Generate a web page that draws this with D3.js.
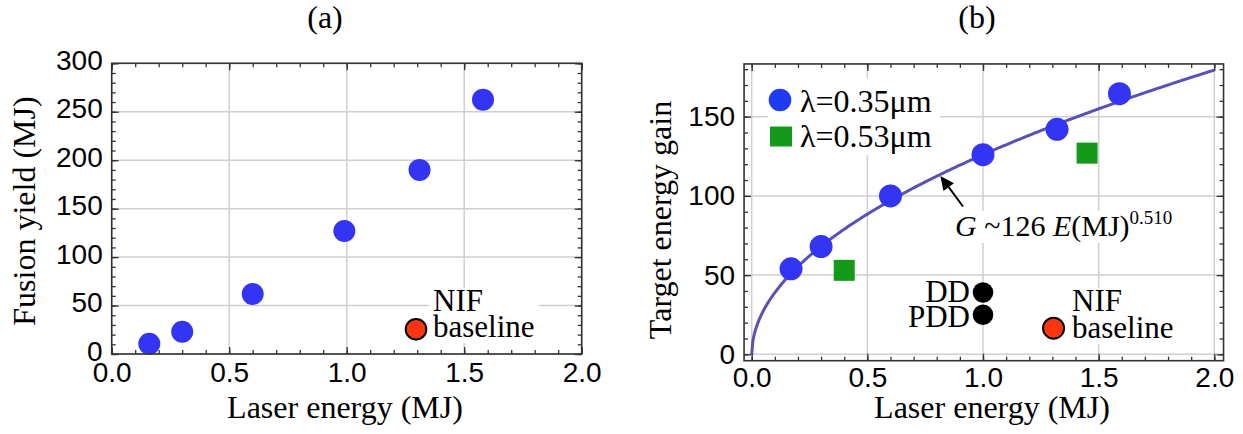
<!DOCTYPE html>
<html>
<head>
<meta charset="utf-8">
<script src="https://cdn.jsdelivr.net/npm/d3@7"></script>
<style>
  body { margin: 0; background: #fff; }
  svg { display: block; }
  .tick text { font-family: "Liberation Sans", Arial, sans-serif; font-size: 28px; fill: #000; }
  .serif { font-family: "Liberation Serif", "Times New Roman", serif; fill: #000; }
  .note { font-family: "Liberation Serif", "Times New Roman", serif; color: #000; white-space: nowrap; }
  .note div { display: inline-block; background: #fff; }
</style>
</head>
<body>
<svg></svg>
<script>
// ---- panel (a): fusion yield ----
const laserA = [0.16, 0.30, 0.60, 0.99, 1.31, 1.58];
const yieldA = [10.5, 23, 62, 127, 190, 262.5];
const nifLaserA = 1.295;
const nifYieldA = 25.5;

// ---- panel (b): target gain ----
const laserBlue = [0.17, 0.30, 0.60, 1.0, 1.32, 1.59];
const gainBlue = [54, 68, 100, 126, 142, 164.5];
const laserGreen = [0.40, 1.45];
const gainGreen = [53, 127];
const ddNames = ['DD', 'PDD'];
const ddLaser = [1.0, 1.0];
const ddGain = [39, 25];
const nifLaserB = 1.305;
const nifGainB = 16.5;
// fit G ~ 126 E^0.510
const fitCoef = 126;
const fitExp = 0.510;

// tick values
const xMajor = [0, 0.5, 1, 1.5, 2];
const xMinor = d3.range(0, 2.001, 0.1);
const yMajorA = [0, 50, 100, 150, 200, 250, 300];
const yMinorA = d3.range(0, 301, 10);
const yMajorB = [0, 50, 100, 150];
const yMinorB = d3.range(0, 181, 10);

const blue = '#3434f4';
const green = '#15991a';
const red = '#ff3512';
const curveColor = '#5a51b6';

const svg = d3.select('svg').attr('width', 1243).attr('height', 434);

// scales (pixel ranges measured from the frames)
const xA = d3.scaleLinear().domain([0, 2]).range([111.7, 581.7]);
const yA = d3.scaleLinear().domain([0, 300]).range([354, 63.3]);
const xB = d3.scaleLinear().domain([0, 2]).range([751.7, 1214.3]);
const yB = d3.scaleLinear().domain([0, 150]).range([354.3, 116.7]);

// draws grid, ticks and frame for a panel
function panel(x, y, xDom, yDom, yMajor, yMinor, opt) {
  const g = svg.append('g');
  const x0 = x(xDom[0]), x1 = x(xDom[1]);
  const y0 = y(yDom[0]), y1 = y(yDom[1]);

  const grid = g.append('g').attr('stroke', '#cfcfcf').attr('stroke-width', 1.5);
  grid.selectAll('.gx').data(xMajor).join('line')
    .attr('x1', d => x(d)).attr('x2', d => x(d)).attr('y1', y0).attr('y2', y1);
  grid.selectAll('.gy').data(yMajor).join('line')
    .attr('y1', d => y(d)).attr('y2', d => y(d)).attr('x1', x0).attr('x2', x1);

  const xs = x.copy().domain(xDom).range([x0, x1]);
  const ys = y.copy().domain(yDom).range([y0, y1]);
  const axes = svg.append('g').attr('class', 'axes-' + opt.name);

  // labelled bottom / left axes
  axes.append('g').attr('transform', `translate(0,${y0})`)
    .call(d3.axisBottom(xs).tickValues(xMajor).tickSize(-7).tickPadding(opt.xPad).tickFormat(d3.format('.1f')));
  const left = axes.append('g').attr('transform', `translate(${x0},0)`)
    .call(d3.axisLeft(ys).tickValues(yMajor).tickSize(-7).tickPadding(9).tickFormat(d3.format('d')));
  left.selectAll('text').attr('dy', null).attr('y', opt.yDy);

  // mirrored top / right axes
  axes.append('g').attr('transform', `translate(0,${y1})`)
    .call(d3.axisTop(xs).tickValues(xMajor).tickSize(-7).tickFormat(''));
  axes.append('g').attr('transform', `translate(${x1},0)`)
    .call(d3.axisRight(ys).tickValues(yMajor).tickSize(-7).tickFormat(''));

  // minor ticks on all four sides
  axes.append('g').attr('transform', `translate(0,${y0})`)
    .call(d3.axisBottom(xs).tickValues(xMinor).tickSize(-4).tickFormat(''));
  axes.append('g').attr('transform', `translate(0,${y1})`)
    .call(d3.axisTop(xs).tickValues(xMinor).tickSize(-4).tickFormat(''));
  axes.append('g').attr('transform', `translate(${x0},0)`)
    .call(d3.axisLeft(ys).tickValues(yMinor).tickSize(-4).tickFormat(''));
  axes.append('g').attr('transform', `translate(${x1},0)`)
    .call(d3.axisRight(ys).tickValues(yMinor).tickSize(-4).tickFormat(''));

  axes.selectAll('.domain').remove();
  axes.selectAll('.tick line').attr('stroke', '#333').attr('stroke-width', 1.3);

  axes.append('rect')
    .attr('x', x0).attr('y', y1).attr('width', x1 - x0).attr('height', y0 - y1)
    .attr('fill', 'none').attr('stroke', '#333').attr('stroke-width', 1.6);

  return { g, axes };
}

// two-line note on a white box; x,y is the first baseline
function note(parent, x, y, lines, align, size, lh, pad) {
  const W = 160;
  const top = y - (lh - 1.107 * size) / 2 - 0.891 * size;
  const fo = parent.append('foreignObject')
    .attr('x', align === 'right' ? x - W + pad : x - pad).attr('y', top)
    .attr('width', W).attr('height', lines.length * lh + 8)
    .style('overflow', 'visible');
  fo.append('xhtml:div').attr('class', 'note')
    .style('text-align', align).style('font-size', size + 'px').style('line-height', lh + 'px')
    .append('xhtml:div')
    .style('padding', `0 ${pad}px 3px ${pad}px`).style('text-align', align)
    .html(lines.join('<br>'));
  return fo;
}

// ================= panel (a) =================
const pA = panel(xA, yA, [0, 2], [0, 300], yMajorA, yMinorA, { name: 'a', xPad: 8, yDy: 6 });
const gA = pA.g;

note(gA, 433, 311, ['NIF', 'baseline'], 'left', 31, 26, 4);

gA.append('g').selectAll('circle').data(laserA).join('circle')
  .attr('cx', d => xA(d)).attr('cy', (d, i) => yA(yieldA[i])).attr('r', 11)
  .attr('fill', blue);

gA.append('circle')
  .attr('cx', xA(nifLaserA)).attr('cy', yA(nifYieldA)).attr('r', 10.3)
  .attr('fill', red).attr('stroke', '#000').attr('stroke-width', 2);

svg.node().appendChild(pA.axes.node());

svg.append('text').attr('class', 'serif').attr('font-size', 32)
  .attr('x', 325).attr('y', 28).attr('text-anchor', 'middle').text('(a)');
svg.append('text').attr('class', 'serif').attr('font-size', 32)
  .attr('x', 345).attr('y', 418).attr('text-anchor', 'middle').text('Laser energy (MJ)');
svg.append('text').attr('class', 'serif').attr('font-size', 32)
  .attr('transform', 'translate(35,211) rotate(-90)').attr('text-anchor', 'middle')
  .text('Fusion yield (MJ)');

// ================= panel (b) =================
const pB = panel(xB, yB, [-0.033, 2.04], [-4.04, 183.3], yMajorB, yMinorB, { name: 'b', xPad: 6, yDy: 9 });
const gB = pB.g;

// legend
gB.append('rect').attr('x', 768).attr('y', 78).attr('width', 172).attr('height', 77).attr('fill', '#fff');
gB.append('circle').attr('cx', 780).attr('cy', 100).attr('r', 11.3).attr('fill', '#1f3af5');
gB.append('rect').attr('x', 770).attr('y', 126.5).attr('width', 22).attr('height', 20).attr('fill', green);
gB.append('text').attr('class', 'serif').attr('font-size', 32).attr('x', 800).attr('y', 111.5).text('λ=0.35μm');
gB.append('text').attr('class', 'serif').attr('font-size', 32).attr('x', 800).attr('y', 147.3).text('λ=0.53μm');

// fit annotation
const ann = gB.append('g');
const annText = ann.append('text').attr('class', 'serif').attr('font-size', 30).attr('x', 955).attr('y', 236);
annText.append('tspan').attr('font-style', 'italic').text('G');
annText.append('tspan').text(' ~126 ');
annText.append('tspan').attr('font-style', 'italic').text('E');
annText.append('tspan').text('(MJ)');
annText.append('tspan').attr('font-size', 19).attr('dy', -12).text('0.510');
const abb = ann.node().getBBox();
ann.insert('rect', 'text').attr('x', abb.x - 2).attr('y', abb.y + 4).attr('width', abb.width + 4).attr('height', abb.height - 4).attr('fill', '#fff');

note(gB, 970, 301.7, ddNames, 'right', 31, 25, 2);
note(gB, 1072, 311.7, ['NIF', 'baseline'], 'left', 31, 26.6, 4);

// fit curve
const fitE = d3.range(0, 2.0001, 0.005);
gB.append('path')
  .datum(fitE)
  .attr('fill', 'none').attr('stroke', curveColor).attr('stroke-width', 3)
  .attr('d', d3.line().x(d => xB(d)).y(d => yB(fitCoef * Math.pow(d, fitExp))));

// arrow pointing at the curve
const tipE = 0.82;
const tip = [xB(tipE) - 1, yB(fitCoef * Math.pow(tipE, fitExp)) + 2];
const tail = [963, 206.5];
const ang = Math.atan2(tip[1] - tail[1], tip[0] - tail[0]);
const hl = 14, hw = 6.5;
const base = [tip[0] - hl * Math.cos(ang), tip[1] - hl * Math.sin(ang)];
gB.append('line').attr('x1', tail[0]).attr('y1', tail[1]).attr('x2', base[0]).attr('y2', base[1])
  .attr('stroke', '#000').attr('stroke-width', 2);
gB.append('path')
  .attr('d', `M${tip[0]},${tip[1]}L${base[0] + hw * Math.sin(ang)},${base[1] - hw * Math.cos(ang)}L${base[0] - hw * Math.sin(ang)},${base[1] + hw * Math.cos(ang)}Z`)
  .attr('fill', '#000');

// points
gB.append('g').selectAll('circle').data(laserBlue).join('circle')
  .attr('cx', d => xB(d)).attr('cy', (d, i) => yB(gainBlue[i])).attr('r', 11.5)
  .attr('fill', blue);
gB.append('g').selectAll('rect').data(laserGreen).join('rect')
  .attr('x', d => xB(d) - 10.5).attr('y', (d, i) => yB(gainGreen[i]) - 10.5)
  .attr('width', 21).attr('height', 21).attr('fill', green);
gB.append('g').selectAll('circle').data(ddNames).join('circle')
  .attr('cx', (d, i) => xB(ddLaser[i])).attr('cy', (d, i) => yB(ddGain[i])).attr('r', 10.3)
  .attr('fill', '#000');
gB.append('circle')
  .attr('cx', xB(nifLaserB)).attr('cy', yB(nifGainB)).attr('r', 10.5)
  .attr('fill', red).attr('stroke', '#000').attr('stroke-width', 2);

svg.node().appendChild(pB.axes.node());

svg.append('text').attr('class', 'serif').attr('font-size', 32)
  .attr('x', 977).attr('y', 28).attr('text-anchor', 'middle').text('(b)');
svg.append('text').attr('class', 'serif').attr('font-size', 32)
  .attr('x', 992).attr('y', 418).attr('text-anchor', 'middle').text('Laser energy (MJ)');
svg.append('text').attr('class', 'serif').attr('font-size', 32)
  .attr('transform', 'translate(671,220) rotate(-90)').attr('text-anchor', 'middle')
  .text('Target energy gain');
</script>
</body>
</html>
